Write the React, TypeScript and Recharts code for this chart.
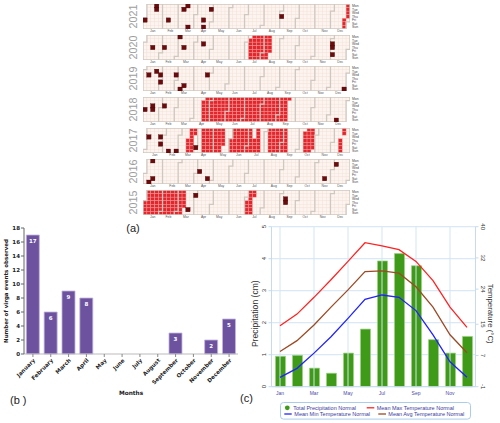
import React from 'react';
import {
  ScatterChart, Scatter, XAxis, YAxis, ReferenceLine,
  BarChart, Bar, LabelList, ComposedChart, Line, CartesianGrid,
} from 'recharts';

// ---------------- (a) calendar heat map data ----------------
const YEARS = [2021, 2020, 2019, 2018, 2017, 2016, 2015];
const MONTH_ABBR = ['Jan', 'Feb', 'Mar', 'Apr', 'May', 'Jun', 'Jul', 'Aug', 'Sep', 'Oct', 'Nov', 'Dec'];
const WEEKDAYS = ['Mon', 'Tue', 'Wed', 'Thu', 'Fri', 'Sat', 'Sun'];

// isolated virga days: [week of year, weekday (0 = Mon)]
const isolated2021 = [[0, 4], [3, 0], [3, 1], [6, 4], [10, 1], [11, 0], [11, 6], [15, 4], [15, 6], [17, 1], [35, 3]];
const isolated2020 = [[2, 3], [5, 3], [9, 0], [10, 3], [15, 2], [48, 2], [48, 3], [48, 5]];
const isolated2019 = [[1, 2], [3, 1], [4, 2], [4, 4], [8, 2], [9, 6], [10, 5], [16, 2], [51, 6]];
const isolated2018 = [[0, 3], [2, 2], [2, 3], [5, 2], [49, 6]];
const isolated2017 = [[1, 2], [4, 2], [4, 4], [6, 6], [8, 6], [13, 5]];
const isolated2016 = [[1, 6], [2, 0], [2, 5], [14, 3], [16, 5], [46, 5], [49, 1]];
const isolated2015 = [[11, 5], [13, 1], [36, 2], [36, 3]];

// runs of consecutive virga days: [start week, start weekday, end week, end weekday]
const runs2021 = [[51, 4, 52, 3]];
const runs2020 = [[27, 1, 32, 4]];
const runs2019: number[][] = [];
const runs2018 = [[15, 1, 37, 0]];
const runs2017 = [[11, 3, 13, 1], [15, 0, 20, 4], [22, 3, 27, 6], [28, 3, 29, 6], [32, 0, 36, 6], [41, 1, 43, 5], [50, 3, 51, 1]];
const runs2016: number[][] = [];
const runs2015 = [[0, 3, 10, 4], [26, 3, 28, 1]];

const ISOLATED: Record<number, number[][]> = {
  2021: isolated2021, 2020: isolated2020, 2019: isolated2019, 2018: isolated2018,
  2017: isolated2017, 2016: isolated2016, 2015: isolated2015,
};
const RUNS: Record<number, number[][]> = {
  2021: runs2021, 2020: runs2020, 2019: runs2019, 2018: runs2018,
  2017: runs2017, 2016: runs2016, 2015: runs2015,
};

// ---------------- (b) monthly virga counts ----------------
const virgaMonths = ['January', 'February', 'March', 'April', 'May', 'June', 'July', 'August', 'September', 'October', 'November', 'December'];
const virgaCounts = [17, 6, 9, 8, 0, 0, 0, 0, 3, 0, 2, 5];

// ---------------- (c) climate normals ----------------
const climMonths = ['Jan', 'Feb', 'Mar', 'Apr', 'May', 'Jun', 'Jul', 'Aug', 'Sep', 'Oct', 'Nov', 'Dec'];
const precipNormal = [0.95, 0.98, 0.58, 0.42, 1.05, 1.8, 3.93, 4.16, 3.78, 1.47, 1.05, 1.57];
const maxTempNormal = [14.6, 17.6, 21.9, 26.4, 31.1, 35.9, 35.1, 34.1, 31.1, 26.2, 19.4, 14.2];
const avgTempNormal = [8.0, 10.8, 14.8, 19.4, 23.8, 28.5, 28.7, 28.1, 24.6, 19.4, 12.3, 7.7];
const minTempNormal = [1.4, 3.7, 7.6, 11.8, 16.5, 21.4, 22.5, 21.9, 18.5, 12.3, 5.4, 1.4];
const climLabelMonths = ['Jan', 'Mar', 'May', 'Jul', 'Sep', 'Nov'];
const tempTicks = [-1, 7, 15, 24, 32, 40];
const precipTicks = [0, 1, 2, 3, 4, 5];

// ---------------- helpers ----------------
const HM_W = 207;
const HM_H = 25;
const CELL_W = HM_W / 53;
const CELL_H = HM_H / 7;
const DAY_MS = 86400000;

type Pt = { x: number; y: number };

function buildCalendar(year: number) {
  const jan1 = Date.UTC(year, 0, 1);
  const offset = (new Date(jan1).getUTCDay() + 6) % 7;
  const doyOf = (m: number) => Math.round((Date.UTC(year, m, 1) - jan1) / DAY_MS);
  const pos = (doy: number) => ({ w: Math.floor((doy + offset) / 7), d: (doy + offset) % 7 });
  const nDays = doyOf(12);
  const days: Pt[] = [];
  for (let i = 0; i < nDays; i++) {
    const p = pos(i);
    days.push({ x: p.w + 0.5, y: p.d + 0.5 });
  }
  // month boundary paths (calendar structure)
  const paths: Pt[][] = [];
  for (let m = 0; m <= 12; m++) {
    const p = pos(doyOf(m));
    if (p.d === 0) paths.push([{ x: p.w, y: 0 }, { x: p.w, y: 7 }]);
    else paths.push([{ x: p.w + 1, y: 0 }, { x: p.w + 1, y: p.d }, { x: p.w, y: p.d }, { x: p.w, y: 7 }]);
  }
  const first = pos(0);
  const next = pos(nDays);
  paths.push([{ x: first.d === 0 ? 0 : 1, y: 0 }, { x: next.d === 0 ? next.w : next.w + 1, y: 0 }]);
  paths.push([{ x: 0, y: 7 }, { x: next.w, y: 7 }]);
  const centers = MONTH_ABBR.map((_, m) => {
    const a = pos(doyOf(m)).w;
    const b = pos(doyOf(m + 1) - 1).w;
    return (a + b + 1) / 2;
  });
  return { days, paths, centers };
}

const expandRuns = (runs: number[][]) => {
  const out: Pt[] = [];
  runs.forEach(([sw, sd, ew, ed]) => {
    for (let i = sw * 7 + sd; i <= ew * 7 + ed; i++) out.push({ x: Math.floor(i / 7) + 0.5, y: (i % 7) + 0.5 });
  });
  return out;
};
const toPoints = (cells: number[][]) => cells.map(([w, d]) => ({ x: w + 0.5, y: d + 0.5 }));

const cellShape = (fill: string, stroke: string, sw: number, w = CELL_W, h = CELL_H) => (props: any) => {
  const { cx, cy } = props;
  if (cx == null || cy == null) return <g />;
  return <rect x={cx - w / 2} y={cy - h / 2} width={w} height={h} fill={fill} stroke={stroke} strokeWidth={sw} />;
};
const bgShape = cellShape('#fdf4ef', '#f1e0d6', 0.35);
const redShape = cellShape('#e3262c', '#f3a3a3', 0.4);
const darkShape = cellShape('#6a0b0e', '#4a0506', 0.3, 4.4, 4.4);
const noShape = () => <g />;

function YearPanel({ year, idx }: { year: number; idx: number }) {
  const cal = buildCalendar(year);
  const reds = expandRuns(RUNS[year]);
  const darks = toPoints(ISOLATED[year]);
  const font = 'Liberation Sans, Arial, sans-serif';
  return (
    <div style={{ position: 'absolute', left: 120, top: 4 + 31 * idx }}>
      <ScatterChart width={250} height={31} margin={{ top: 0, right: 0, bottom: 0, left: 0 }}>
        <XAxis
          type="number" dataKey="x" domain={[0, 53]} allowDataOverflow ticks={cal.centers} interval={0}
          tickFormatter={(v: number, i: number) => MONTH_ABBR[i]}
          tickLine={false} axisLine={false} tickSize={0} tickMargin={1} height={6}
          tick={{ fontSize: 3.4, fill: '#555', fontFamily: font }}
        />
        <YAxis
          yAxisId="yr" orientation="left" type="number" domain={[0, 7]} allowDataOverflow width={23}
          tick={false} tickLine={false} axisLine={false}
          label={{ value: String(year), angle: -90, position: 'center', dx: 1.5, fontSize: 10.8, fill: '#9d9d9d', fontFamily: font }}
        />
        <YAxis
          yAxisId="wd" orientation="right" type="number" dataKey="y" domain={[0, 7]} allowDataOverflow reversed
          ticks={[0.5, 1.5, 2.5, 3.5, 4.5, 5.5, 6.5]} interval={0}
          tickFormatter={(v: number, i: number) => WEEKDAYS[i]}
          width={20} tickLine={false} axisLine={false} tickSize={0} tickMargin={2}
          tick={{ fontSize: 3.4, fill: '#444', fontFamily: font }}
        />
        <Scatter yAxisId="wd" data={cal.days} shape={bgShape} isAnimationActive={false} />
        <Scatter yAxisId="wd" data={reds} shape={redShape} isAnimationActive={false} />
        {cal.paths.map((p, i) => (
          <Scatter
            key={'b' + i} yAxisId="wd" data={p} shape={noShape} lineType="joint"
            line={{ stroke: '#d0c7c0', strokeWidth: 1.3, fill: 'none' }} isAnimationActive={false}
          />
        ))}
        <Scatter yAxisId="wd" data={darks} shape={darkShape} isAnimationActive={false} />
      </ScatterChart>
    </div>
  );
}

// ---------------- (b) ----------------
const virgaData = virgaMonths.map((m, i) => ({ month: m, count: virgaCounts[i] }));

function VirgaChart() {
  const font = 'DejaVu Sans, Verdana, sans-serif';
  return (
    <div style={{ position: 'absolute', left: 0, top: 220 }}>
      <BarChart width={250} height={203} data={virgaData} margin={{ top: 8, right: 12, left: 6, bottom: 0 }} barCategoryGap="13%">
        <XAxis
          dataKey="month" interval={0} height={69} tickSize={3} tickMargin={1}
          axisLine={{ stroke: '#bbb' }} tickLine={{ stroke: '#888' }}
          tick={{ angle: -45, textAnchor: 'end', fontSize: 5.5, fontWeight: 'bold', fill: '#222', fontFamily: font }}
          label={{ value: 'Months', position: 'insideBottom', offset: 28, fontSize: 5.8, fontWeight: 'bold', fill: '#222', fontFamily: font }}
        />
        <YAxis
          type="number" domain={[0, 18]} ticks={[0, 2, 4, 6, 8, 10, 12, 14, 16, 18]} interval={0} width={18}
          tickSize={3} tickMargin={1} axisLine={{ stroke: '#666' }} tickLine={{ stroke: '#666' }}
          tick={{ fontSize: 5.5, fontWeight: 'bold', fill: '#222', fontFamily: font }}
          label={{ value: 'Number of virga events observed', angle: -90, position: 'center', dx: -9, fontSize: 5.5, fontWeight: 'bold', fill: '#222', fontFamily: font }}
        />
        <Bar dataKey="count" fill="#6d539f" stroke="#c3b5dd" strokeWidth={0.8} isAnimationActive={false}>
          <LabelList
            dataKey="count" position="insideTop" offset={4} fill="#fff" fontSize={5.5} fontWeight="bold" fontFamily={font}
            formatter={(v: any) => (v ? v : '')}
          />
        </Bar>
      </BarChart>
    </div>
  );
}

// ---------------- (c) ----------------
const climData = climMonths.map((m, i) => ({
  month: m, precip: precipNormal[i], tmax: maxTempNormal[i], tavg: avgTempNormal[i], tmin: minTempNormal[i],
}));

const LeftRotTick = (props: any) => {
  const { x, y, payload } = props;
  return (
    <text x={x} y={y} transform={`rotate(-90 ${x} ${y})`} textAnchor="middle" fontSize={6} fill="#333" fontFamily="Liberation Sans, Arial, sans-serif">
      {payload.value}
    </text>
  );
};
const RightRotTick = (props: any) => {
  const { x, y, payload } = props;
  return (
    <text x={x} y={y} transform={`rotate(90 ${x} ${y})`} textAnchor="middle" fontSize={6} fill="#333" fontFamily="Liberation Sans, Arial, sans-serif">
      {payload.value}
    </text>
  );
};

function ClimateChart() {
  const font = 'Liberation Sans, Arial, sans-serif';
  const gridBlue = '#d3e4f4';
  return (
    <div style={{ position: 'absolute', left: 250, top: 220 }}>
      <ComposedChart width={250} height={203} data={climData} margin={{ top: 6.7, right: 8.5, left: 5.5, bottom: 24.3 }}>
        <CartesianGrid yAxisId="left" vertical={false} stroke={gridBlue} strokeWidth={1} />
        <XAxis
          dataKey="month" interval={1} height={12} tickLine={false} tickSize={3} tickMargin={2}
          axisLine={{ stroke: '#c6dbef' }}
          tick={{ fontSize: 5, fill: '#4a4aa8', fontFamily: font }}
        />
        <YAxis
          yAxisId="left" orientation="left" type="number" domain={[0, 5]} ticks={precipTicks} interval={0} width={16}
          tickSize={3} axisLine={{ stroke: '#c6dbef' }} tickLine={{ stroke: '#c6dbef' }} tick={<LeftRotTick />}
          label={{ value: 'Precipitation (cm)', angle: -90, position: 'center', dx: -8.5, dy: 7, fontSize: 8.6, fill: '#333', fontFamily: font }}
        />
        <YAxis
          yAxisId="right" orientation="right" type="number" domain={[-1, 40]} ticks={tempTicks} interval={0} width={16}
          tickSize={3} axisLine={{ stroke: '#c6dbef' }} tickLine={{ stroke: '#c6dbef' }} tick={<RightRotTick />}
          label={{ value: 'Temperature (°C)', angle: 90, position: 'center', dx: 7.5, dy: 7, fontSize: 7.8, fill: '#333', fontFamily: font }}
        />
        {climLabelMonths.map((m) => (
          <ReferenceLine key={m} x={m} yAxisId="left" stroke={gridBlue} strokeWidth={1} />
        ))}
        <Bar yAxisId="left" dataKey="precip" barSize={10} fill="#3e9a18" stroke="#9ad27c" strokeWidth={0.7} isAnimationActive={false} />
        <Line yAxisId="right" type="linear" dataKey="tmax" stroke="#ff2222" strokeWidth={1.3} dot={false} isAnimationActive={false} />
        <Line yAxisId="right" type="linear" dataKey="tavg" stroke="#9c4a24" strokeWidth={1.3} dot={false} isAnimationActive={false} />
        <Line yAxisId="right" type="linear" dataKey="tmin" stroke="#2222ff" strokeWidth={1.3} dot={false} isAnimationActive={false} />
      </ComposedChart>
    </div>
  );
}

function ClimateLegend() {
  const font = 'Liberation Sans, Arial, sans-serif';
  const tc = '#3b3b9e';
  return (
    <svg style={{ position: 'absolute', left: 280, top: 402 }} width={191} height={18}>
      <rect x={0.5} y={0.5} width={190} height={16.6} rx={3} fill="#fff" stroke="#a9cdeb" strokeWidth={1} />
      <circle cx={7.3} cy={5.8} r={2.4} fill="#3e9a18" />
      <text x={13.3} y={7.7} fontSize={5.5} fill={tc} fontFamily={font}>Total Precipitation Normal</text>
      <line x1={86.7} x2={94.3} y1={5.8} y2={5.8} stroke="#ff2222" strokeWidth={1.3} />
      <text x={96.7} y={7.7} fontSize={5.5} fill={tc} fontFamily={font}>Mean Max Temperature Normal</text>
      <line x1={4.3} x2={11.7} y1={12} y2={12} stroke="#2222ff" strokeWidth={1.3} />
      <text x={14.3} y={13.9} fontSize={5.5} fill={tc} fontFamily={font}>Mean Min Temperature Normal</text>
      <line x1={98.3} x2={106} y1={12} y2={12} stroke="#9c4a24" strokeWidth={1.3} />
      <text x={108.3} y={13.9} fontSize={5.5} fill={tc} fontFamily={font}>Mean Avg Temperature Normal</text>
    </svg>
  );
}

export default function App() {
  const font = 'Liberation Sans, Arial, sans-serif';
  return (
    <div style={{ position: 'absolute', left: 0, top: 0, width: 500, height: 423, background: '#fff', overflow: 'hidden' }}>
      {YEARS.map((y, i) => (
        <YearPanel key={y} year={y} idx={i} />
      ))}
      <VirgaChart />
      <ClimateChart />
      <ClimateLegend />
      <svg style={{ position: 'absolute', left: 0, top: 0, pointerEvents: 'none' }} width={500} height={423}>
        <text x={133} y={232} textAnchor="middle" fontSize={11} fill="#222" fontFamily={font}>(a)</text>
        <text x={10} y={404} fontSize={11} fill="#222" fontFamily={font}>(b )</text>
        <text x={240} y={402} fontSize={11} fill="#222" fontFamily={font}>(c)</text>
      </svg>
    </div>
  );
}
